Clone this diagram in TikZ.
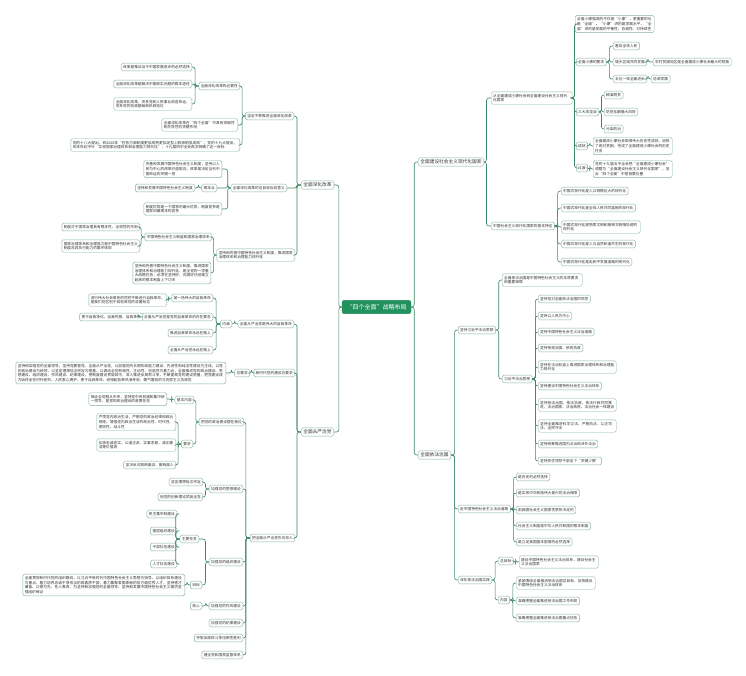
\documentclass[tikz,border=0pt]{standalone}
\usepackage{fontspec}
\newfontfamily\cjk{Noto Sans CJK SC}
\XeTeXlinebreaklocale "zh"
\XeTeXlinebreakskip=0pt plus 0.3pt
\usetikzlibrary{calc}
\definecolor{rootg}{HTML}{22915E}
\definecolor{linec}{HTML}{3C8764}
\definecolor{boxc}{HTML}{8AB09F}
\definecolor{txt}{HTML}{333333}
\tikzset{
 bx/.style={draw=boxc, line width=0.45pt, rounded corners=1.6pt, fill=white, text=txt,
   inner xsep=2pt, inner ysep=2.2pt, font=\cjk\fontsize{3.7}{4.6}\selectfont, align=left},
 lone/.style={bx, font=\cjk\fontsize{4.7}{5.6}\selectfont, inner xsep=2.2pt, inner ysep=2pt},
 rootbox/.style={fill=rootg, draw=rootg, rounded corners=2pt, text=white,
   font=\cjk\fontsize{6}{7}\selectfont, inner xsep=4.5pt, inner ysep=3.8pt},
 conn/.style={draw=linec, line width=0.6pt, rounded corners=2.5pt},
 W/.style={anchor=west}, E/.style={anchor=east},
 tw/.style={text width=#1pt}
}
\newcommand\Rlink[3]{\draw[conn] (#1.east) -- ++(#3,0) |- (#2.west);}
\newcommand\Llink[3]{\draw[conn] (#1.west) -- ++(-#3,0) |- (#2.east);}
\begin{document}
\begin{tikzpicture}[x=1pt,y=-1pt]
\fill[white] (0,0) rectangle (746,675);
\useasboundingbox (0,0) rectangle (746,675);

% root
\node[rootbox] (root) at (376.5,307) {“四个全面”战略布局};

% ================= right side =================
\node[lone,W] (r1) at (418,162) {全面建设社会主义现代化国家};
\node[lone,W] (r2) at (418,455) {全面依法治国};
\Rlink{root}{r1}{3} \Rlink{root}{r2}{3}

\node[bx,W,tw=77] (A) at (491,98) {从全面建成小康社会到全面建设社会主义现代\\化国家};
\node[bx,W] (B) at (491,226) {中国社会主义现代化国家的基本特征};
\Rlink{r1}{A}{2.5} \Rlink{r1}{B}{2.5}

\node[bx,W,tw=75] (a1) at (575,24) {全面小康强调的不仅是“小康”，更重要的也是“全面”。“小康”讲的是发展水平，“全面”讲的是发展的平衡性、协调性、可持续性};
\node[bx,W] (a2) at (576,62) {全面小康的要求};
\node[bx,W] (a3) at (576,112) {三大攻坚战};
\node[bx,W] (a4) at (576,146) {成就};
\node[bx,W] (a5) at (576,168) {过渡};
\foreach \c in {a1,a2,a3,a4,a5} {\Rlink{A}{\c}{2}}

\node[bx,W] (a2a) at (613,46) {惠及全体人民};
\node[bx,W] (a2b) at (613,62) {城乡区域共同发展};
\node[bx,W] (a2c) at (613,79) {五位一体全面进步};
\foreach \c in {a2a,a2b,a2c} {\Rlink{a2}{\c}{3}}
\node[bx,W] (a2b1) at (653,62) {农村贫困地区是全面建成小康社会最大的短板};
\node[bx,W] (a2c1) at (651,79) {协调发展};
\Rlink{a2b}{a2b1}{1} \Rlink{a2c}{a2c1}{1}

\node[bx,W] (a3a) at (604,95) {精准脱贫};
\node[bx,W] (a3b) at (604,112) {防范化解重大风险};
\node[bx,W] (a3c) at (604,129) {污染防治};
\foreach \c in {a3a,a3b,a3c} {\Rlink{a3}{\c}{2.5}}

\node[bx,W,tw=75] (a4a) at (593,146) {全面建成小康社会取得伟大历史性成就，消除了绝对贫困，完成了全面建成小康社会的历史任务};
\node[bx,W,tw=75] (a5a) at (593,169) {党的十九届五中全会把“全面建成小康社会”调整为“全面建设社会主义现代化国家”，至此“四个全面”中居首要位置};
\Rlink{a4}{a4a}{2} \Rlink{a5}{a5a}{2}

\node[bx,W] (b1) at (561,191) {中国式现代化是人口规模巨大的现代化};
\node[bx,W] (b2) at (561,208) {中国式现代化是全体人民共同富裕的现代化};
\node[bx,W,tw=75] (b3) at (561,227) {中国式现代化是物质文明和精神文明相协调的\\现代化};
\node[bx,W] (b4) at (561,244) {中国式现代化是人与自然和谐共生的现代化};
\node[bx,W] (b5) at (561,262) {中国式现代化是走和平发展道路的现代化};
\foreach \c in {b1,b2,b3,b4,b5} {\Rlink{B}{\c}{3}}

% 全面依法治国
\node[bx,W] (C) at (458,330) {坚持习近平法治思想};
\node[bx,W] (D) at (458,509) {走中国特色社会主义法治道路};
\node[bx,W] (E) at (458,580) {深化依法治国实践};
\foreach \c in {C,D,E} {\Rlink{r2}{\c}{3.5}}

\node[bx,W,tw=76] (C1) at (502,280) {全面依法治国是中国特色社会主义的本质要求\\和重要保障};
\node[bx,W] (C2) at (502,379) {习近平法治思想};
\Rlink{C}{C1}{3} \Rlink{C}{C2}{3}

\node[bx,W] (c1) at (538,299) {坚持党对全面依法治国的领导};
\node[bx,W] (c2) at (538,316) {坚持以人民为中心};
\node[bx,W] (c3) at (538,332) {坚持中国特色社会主义法治道路};
\node[bx,W] (c4) at (538,348) {坚持依宪治国、依宪执政};
\node[bx,W,tw=74] (c5) at (538,367) {坚持在法治轨道上推进国家治理体系和治理能力现代化};
\node[bx,W] (c6) at (538,386) {坚持建设中国特色社会主义法治体系};
\node[bx,W,tw=74] (c7) at (538,405) {坚持依法治国、依法执政、依法行政共同推进，法治国家、法治政府、法治社会一体建设};
\node[bx,W,tw=74] (c8) at (538,426) {坚持全面推进科学立法、严格执法、公正司法、全民守法};
\node[bx,W] (c9) at (538,444) {坚持统筹推进国内法治和涉外法治};
\node[bx,W] (c10) at (538,461) {坚持抓住领导干部这个“关键少数”};
\foreach \c in {c1,c2,c3,c4,c5,c6,c7,c8,c9,c10} {\Rlink{C2}{\c}{3}}

\node[bx,W] (d1) at (516,477) {是历史的必然选择};
\node[bx,W] (d2) at (516,493) {是实现中华民族伟大复兴的法治保障};
\node[bx,W] (d3) at (516,510) {由我国社会主义国家性质所决定的};
\node[bx,W] (d4) at (516,526) {社会主义制度是中华人民共和国的根本制度};
\node[bx,W] (d5) at (516,542) {是立足我国基本国情的必然选择};
\foreach \c in {d1,d2,d3,d4,d5} {\Rlink{D}{\c}{3}}

\node[bx,W] (E1) at (498,561) {总目标};
\node[bx,W] (E2) at (498,600) {内容};
\Rlink{E}{E1}{3} \Rlink{E}{E2}{3}
\node[bx,W,tw=75] (E1a) at (519,562) {建设中国特色社会主义法治体系，建设社会主义法治国家};
\Rlink{E1}{E1a}{2}
\node[bx,W,tw=75] (e1) at (516,583) {紧紧围绕全面推进依法治国总目标，加快建设中国特色社会主义法治体系};
\node[bx,W] (e2) at (516,601) {准确把握全面推进依法治国工作布局};
\node[bx,W] (e3) at (516,618) {准确把握全面推进依法治国重点任务};
\foreach \c in {e1,e2,e3} {\Rlink{E2}{\c}{3}}

% ================= left side =================
\node[lone,E] (l1) at (334,185) {全面深化改革};
\node[lone,E] (l2) at (334,432) {全面从严治党};
\Llink{root}{l1}{3} \Llink{root}{l2}{3}

\node[bx,E] (L1a) at (294,116) {坚定不移推进全面深化改革};
\node[bx,E] (L1b) at (287,188) {全面深化改革的总目标及其意义};
\node[bx,E,tw=74] (L1c) at (295,255) {坚持和完善中国特色社会主义制度，推进国家\\治理体系和治理能力现代化};
\foreach \c in {L1a,L1b,L1c} {\Llink{l1}{\c}{4}}

\node[bx,E] (L1a1) at (240,86) {全面深化改革的必要性};
\node[bx,E,tw=72] (L1a2) at (238,125) {全面深化改革在“四个全面”中具有突破性和先导性的关键作用};
\node[bx,E,tw=165] (L1a3) at (240,145) {党的十八大提出，到2020年“在各方面制度更加成熟更加定型上取得明显成效”；党的十九大提出，到本世纪中叶“实现国家治理体系和治理能力现代化”，十九届四中全会再次明确了这一目标};
\foreach \c in {L1a1,L1a2,L1a3} {\Llink{L1a}{\c}{3}}

\node[bx,E] (n1) at (192,67) {改革是推动当今中国发展进步的必然选择};
\node[bx,E] (n2) at (192,84) {全面深化改革是解决中国现实问题的根本途径};
\node[bx,E,tw=74] (n3) at (192,104) {全面深化改革，关系党和人民事业前途命运，\\关系党的执政基础和执政地位};
\foreach \c in {n1,n2,n3} {\Llink{L1a1}{\c}{3.5}}

\node[bx,E,tw=74] (L1b1) at (222,169) {完善和发展中国特色社会主义制度，坚持以人民为中心的改革价值取向，改革是决定当代中国命运的关键一招};
\node[bx,E] (L1b2) at (217,188) {根本点};
\node[bx,E,tw=74] (L1b3) at (222,209) {制度优势是一个国家的最大优势，制度竞争是国家间最根本的竞争};
\foreach \c in {L1b1,L1b2,L1b3} {\Llink{L1b}{\c}{3}}
\node[bx,E] (L1b2a) at (195,188) {坚持和发展中国特色社会主义制度};
\Llink{L1b2}{L1b2a}{3}

\node[bx,E] (L1c1) at (212,237) {中国特色社会主义制度和国家治理体系};
\node[bx,E,tw=74] (L1c2) at (211,273) {坚持和完善中国特色社会主义制度、推进国家治理体系和治理能力现代化，是全党的一项重大战略任务，必须在坚持好、巩固好已经建立起来的根本制度上下功夫};
\Llink{L1c}{L1c1}{3} \Llink{L1c}{L1c2}{3}
\node[bx,E] (p1) at (140,227) {制度对于国家治理具有根本性、全局性的作用};
\node[bx,E,tw=74] (p2) at (140,246) {国家治理体系和治理能力是中国特色社会主义制度及其执行能力的集中体现};
\Llink{L1c1}{p1}{3.5} \Llink{L1c1}{p2}{3.5}

% 全面从严治党
\node[bx,E] (L2a) at (294,324) {全面从严治党是伟大的自我革命};
\node[bx,E] (L2b) at (295,373) {新时代党的建设总要求};
\node[bx,E] (L2c) at (295,538) {把全面从严治党引向深入};
\foreach \c in {L2a,L2b,L2c} {\Llink{l2}{\c}{4}}

\node[bx,E] (L2a1) at (232,324) {内涵};
\Llink{L2a}{L2a1}{3}
\node[bx,E] (q1) at (213,298) {是一场伟大的自我革命};
\node[bx,E] (q2) at (213,317) {全面从严治党是党的自我革命的内在要求};
\node[bx,E] (q3) at (213,333) {推进自我革命永远在路上};
\node[bx,E] (q4) at (213,350) {全面从严治党永远在路上};
\foreach \c in {q1,q2,q3,q4} {\Llink{L2a1}{\c}{4}}
\node[bx,E,tw=74] (q1a) at (167,300) {进行伟大社会革命的同时不断进行自我革命，是我们党区别于其他政党的显著标志};
\node[bx,E] (q2a) at (143,317) {勇于自我净化、自我完善、自我革新};
\Llink{q1}{q1a}{3} \Llink{q2}{q2a}{4}

\node[bx,E] (L2b1) at (250,373) {总要求};
\Llink{L2b}{L2b1}{2}
\node[bx,E,tw=206] (L2b1a) at (226,373) {坚持和加强党的全面领导，坚持党要管党、全面从严治党，以加强党的长期执政能力建设、先进性和纯洁性建设为主线，以党的政治建设为统领，以坚定理想信念宗旨为根基，以调动全党积极性、主动性、创造性为着力点，全面推进党的政治建设、思想建设、组织建设、作风建设、纪律建设，把制度建设贯穿其中，深入推进反腐败斗争，不断提高党的建设质量，把党建设成为始终走在时代前列、人民衷心拥护、勇于自我革命、经得起各种风浪考验、朝气蓬勃的马克思主义执政党};
\Llink{L2b1}{L2b1a}{3}

\node[bx,E] (s1) at (244,422) {把党的政治建设摆在首位};
\node[bx,E] (s2) at (243,489) {加强党的思想建设};
\node[bx,E] (s3) at (243,562) {加强党的组织建设};
\node[bx,E] (s4) at (243,606) {加强党的作风建设};
\node[bx,E] (s5) at (243,623) {加强党的纪律建设};
\node[bx,E] (s6) at (243,638) {夺取反腐败斗争压倒性胜利};
\node[bx,E] (s7) at (243,655) {健全党和国家监督体系};
\foreach \c in {s1,s2,s3,s4,s5,s6,s7} {\Llink{L2c}{\c}{4}}

\node[bx,E] (s1a) at (194,400) {基本内容};
\node[bx,E] (s1b) at (193,444) {要求};
\Llink{s1}{s1a}{3} \Llink{s1}{s1b}{3}
\node[bx,E,tw=74] (s1a1) at (167,399) {保证全党服从中央，坚持党中央权威和集中统一领导，是党的政治建设的首要任务};
\Llink{s1a}{s1a1}{3}
\node[bx,E,tw=75] (t1) at (176,422) {严肃党内政治生活，严明党的政治纪律和政治规矩，增强党内政治生活的政治性、时代性、原则性、战斗性};
\node[bx,E,tw=75] (t2) at (176,445) {弘扬忠诚老实、公道正派、实事求是、清正廉洁等价值观};
\node[bx,E] (t3) at (176,465) {坚决反对搞两面派、做两面人};
\foreach \c in {t1,t2,t3} {\Llink{s1b}{\c}{3}}

\node[bx,E] (s2a) at (203,482) {坚定理想信念宗旨};
\node[bx,E] (s2b) at (203,497) {用党的创新理论武装全党};
\Llink{s2}{s2a}{3.5} \Llink{s2}{s2b}{3.5}

\node[bx,E] (s3a) at (199,539) {主要任务};
\node[bx,E] (s3b) at (202,585) {目标};
\Llink{s3}{s3a}{3.5} \Llink{s3}{s3b}{3.5}
\node[bx,E] (u1) at (177,514) {民主集中制建设};
\node[bx,E] (u2) at (177,531) {基层组织建设};
\node[bx,E] (u3) at (177,547) {干部队伍建设};
\node[bx,E] (u4) at (177,564) {人才队伍建设};
\foreach \c in {u1,u2,u3,u4} {\Llink{s3a}{\c}{4}}
\node[bx,E,tw=158] (s3b1) at (185,585) {全面贯彻新时代党的组织路线，以习近平新时代中国特色社会主义思想为指导，以组织体系建设为重点，着力培养忠诚干净担当的高素质干部，着力集聚爱国奉献的各方面优秀人才，坚持德才兼备、以德为先、任人唯贤，为坚持和加强党的全面领导、坚持和发展中国特色社会主义提供坚强组织保证};
\Llink{s3b}{s3b1}{3}

\node[bx,E] (s4a) at (202,606) {核心};
\Llink{s4}{s4a}{3}
\end{tikzpicture}
\end{document}
